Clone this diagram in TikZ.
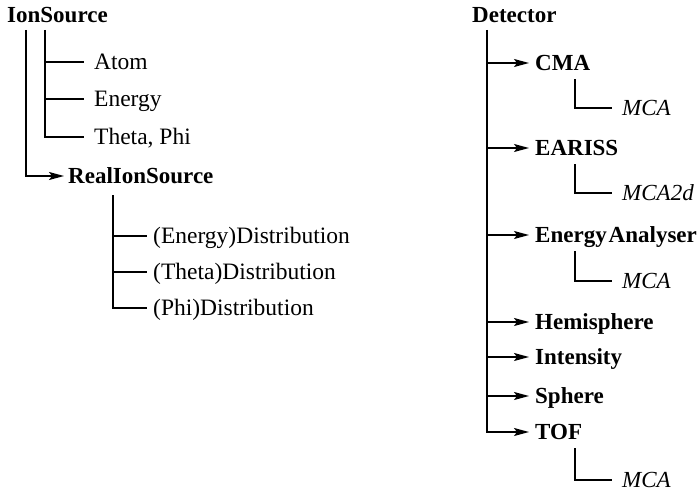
\documentclass[tikz,border=0pt]{standalone}
\usepackage{fontspec}
\setmainfont{Liberation Serif}
\usetikzlibrary{arrows.meta}

\begin{document}
\begin{tikzpicture}[x=1pt,y=-1pt,
    lbl/.style={anchor=west,inner sep=0pt,text height=15pt,text depth=0pt,
        font=\fontsize{23.5}{26}\selectfont},
    cls/.style={lbl,font=\fontsize{23}{26}\selectfont\bfseries},
    sub/.style={lbl,font=\fontsize{23}{26}\selectfont\itshape},
    tree/.style={line width=1.5pt},
    isa/.style={tree,-{Stealth[length=15pt,width=8pt,inset=3pt]}}]
        \useasboundingbox (0,0) rectangle (698,495);
        % left tree
        \node[cls] (ionsrc) at (7,15) {IonSource};
        \coordinate (ltrunk) at (26,30);
        \coordinate (lattr) at (45,30);
        \node[lbl] (atom) at (94,62) {Atom};
        \node[lbl] (energy) at (94,99) {Energy};
        \node[lbl] (thetaphi) at (94,137) {Theta, Phi};
        \draw[tree] (lattr) |- ([xshift=-10]thetaphi.west);
        \foreach \n in {atom,energy} {
            \draw[tree] (lattr |- \n.west) -- ([xshift=-10]\n.west);
        }
        \node[cls] (realsrc) at (68,176) {RealIonSource};
        \draw[isa,shorten >=4pt] (ltrunk) |- (realsrc.west);
        \coordinate (rattr) at (113,195);
        \node[lbl] (edist) at (153,236) {(Energy)Distribution};
        \node[lbl] (tdist) at (153,272) {(Theta)Distribution};
        \node[lbl] (pdist) at (153,308) {(Phi)Distribution};
        \draw[tree] (rattr) |- ([xshift=-6]pdist.west);
        \foreach \n in {edist,tdist} {
            \draw[tree] (rattr |- \n.west) -- ([xshift=-6]\n.west);
        }
        % right tree
        \node[cls] (det) at (472,15) {Detector};
        \coordinate (rtrunk) at (487,30);
        \foreach \n/\t/\y in {cma/CMA/63,eariss/EARISS/148,ea/Energy\kern2pt Analyser/235,
                hemi/Hemisphere/322,intens/Intensity/357,sphere/Sphere/396,tof/TOF/432} {
            \node[cls] (\n) at (535,\y) {\t};
        }
        \draw[isa,shorten >=6pt] (rtrunk) |- (tof.west);
        \foreach \n in {cma,eariss,ea,hemi,intens,sphere} {
            \draw[isa,shorten >=6pt] (rtrunk |- \n.west) -- (\n.west);
        }
        \foreach \p/\n/\t/\y in {cma/cmamca/MCA/108,eariss/mca2d/MCA2d/193,
                ea/eamca/MCA/281,tof/tofmca/MCA/480} {
            \node[sub] (\n) at (622,\y) {\t};
            \draw[tree] ([shift={(40,16)}]\p.west) |- ([xshift=-10]\n.west);
        }
\end{tikzpicture}
\end{document}
